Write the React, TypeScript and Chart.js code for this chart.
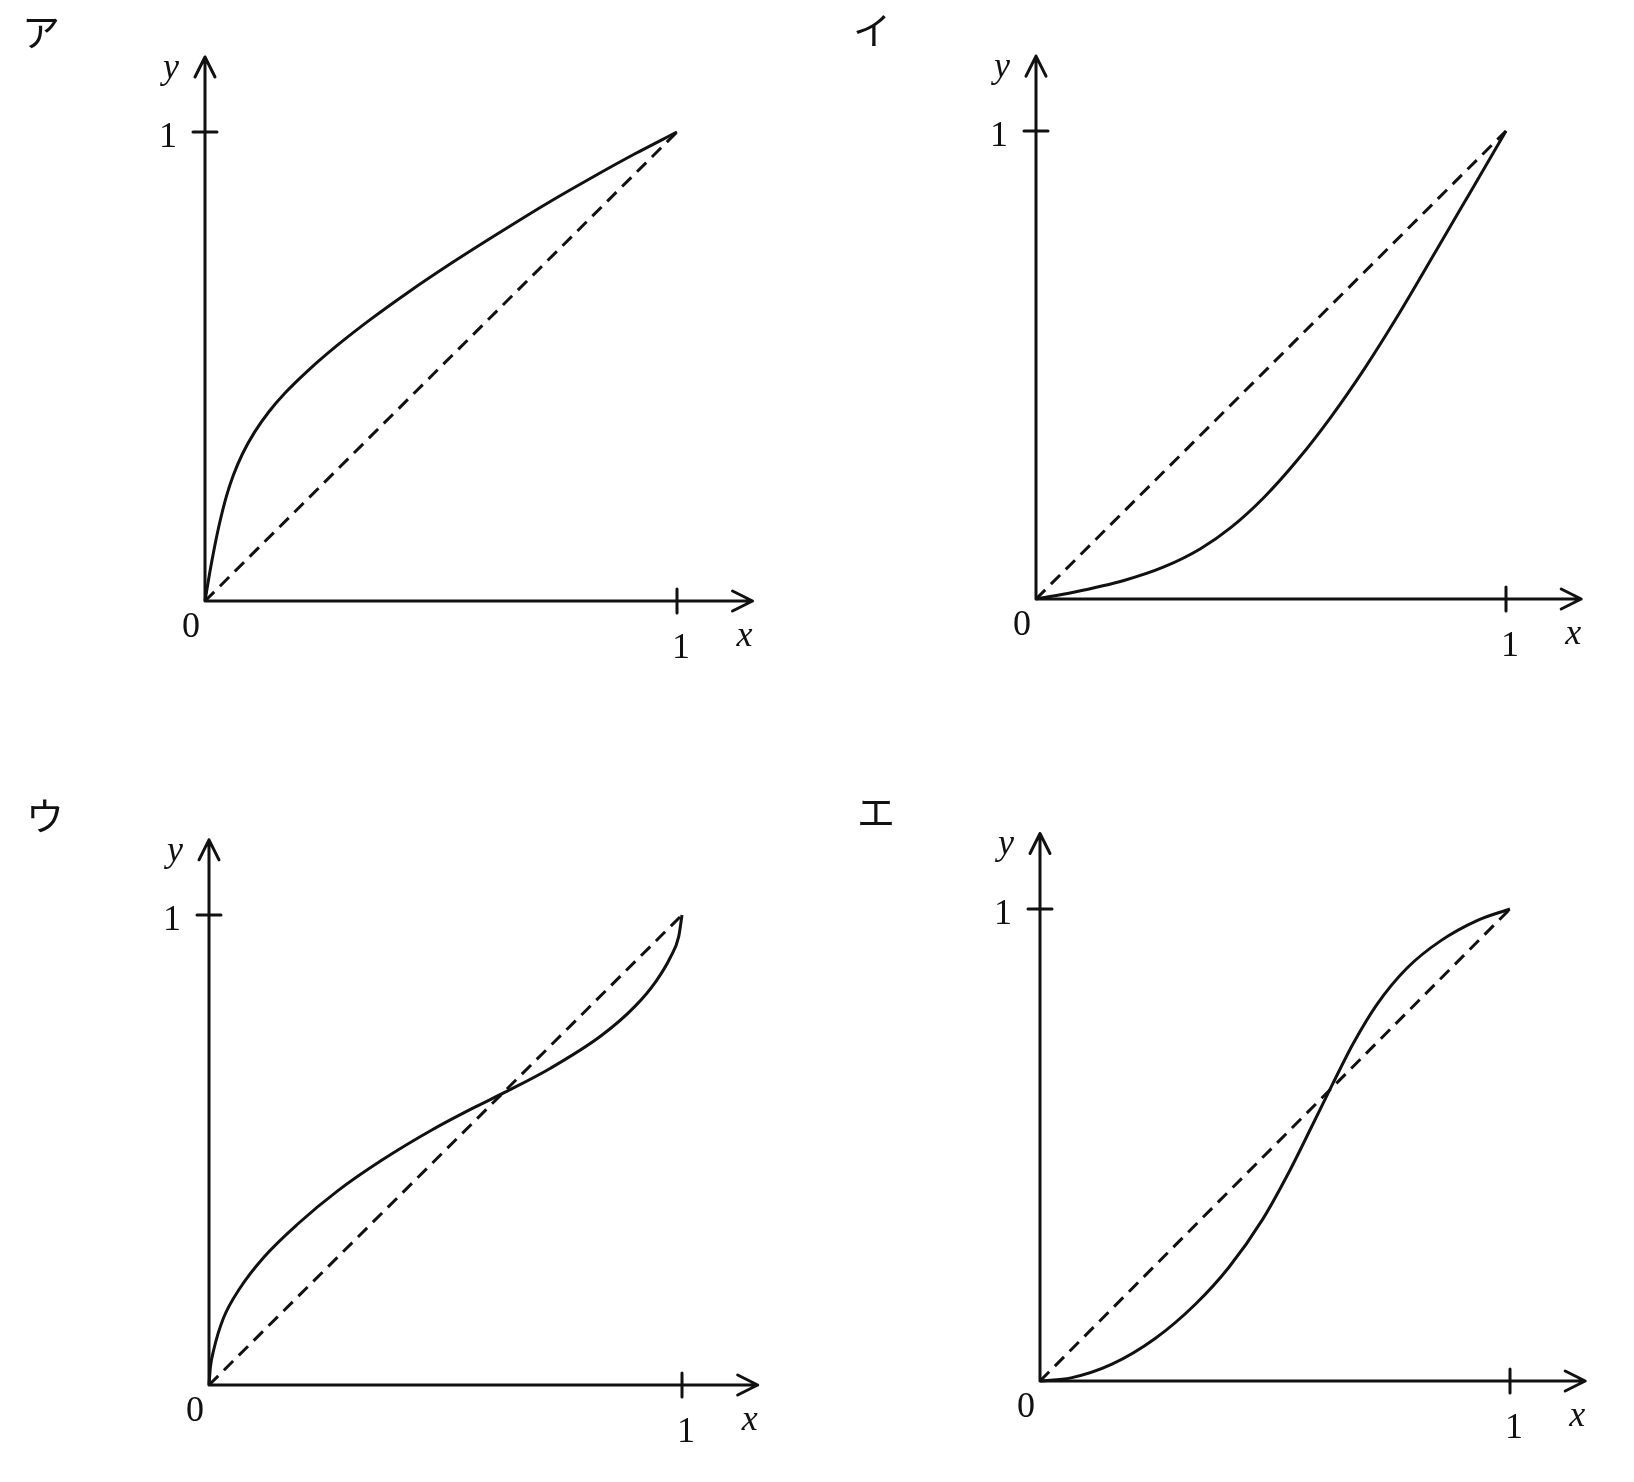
import React, { useEffect, useRef } from "react";
import { Chart, registerables } from "chart.js";

Chart.register(...registerables);

// ---------------- data ----------------
const panelLabels = ["ア", "イ", "ウ", "エ"];
const zeroLabel = "0";
const oneLabel = "1";
const xAxisName = "x";
const yAxisName = "y";

// dashed reference line y = x
const diagonalX = [0, 1];
const diagonalY = [0, 1];

// ア
const curveAX = [0, 0.01, 0.02, 0.03, 0.045, 0.06, 0.08, 0.105, 0.135, 0.17, 0.22, 0.28, 0.35, 0.43, 0.52, 0.62, 0.72, 0.82, 0.91, 1];
const curveAY = [0, 0.06, 0.114, 0.162, 0.222, 0.268, 0.315, 0.36, 0.403, 0.444, 0.493, 0.545, 0.6, 0.658, 0.719, 0.783, 0.845, 0.903, 0.953, 1];

// イ
const curveIX = [0, 0.08, 0.187, 0.272, 0.35, 0.415, 0.486, 0.558, 0.629, 0.7, 0.772, 0.85, 0.921, 1];
const curveIY = [0, 0.0145, 0.0396, 0.0685, 0.1075, 0.153, 0.218, 0.299, 0.391, 0.494, 0.609, 0.742, 0.864, 1];

// ウ
const curveUX = [0, 0.003, 0.01, 0.03, 0.066, 0.116, 0.187, 0.272, 0.365, 0.472, 0.558, 0.626, 0.722, 0.829, 0.9, 0.945, 0.975, 0.993, 1];
const curveUY = [0, 0.038, 0.075, 0.141, 0.207, 0.272, 0.342, 0.413, 0.478, 0.543, 0.589, 0.623, 0.674, 0.743, 0.805, 0.859, 0.909, 0.954, 1];

// エ
const curveEX = [0, 0.066, 0.152, 0.245, 0.33, 0.402, 0.474, 0.531, 0.581, 0.624, 0.667, 0.717, 0.781, 0.853, 0.931, 1];
const curveEY = [0, 0.0066, 0.035, 0.09, 0.162, 0.241, 0.343, 0.445, 0.545, 0.632, 0.716, 0.798, 0.875, 0.933, 0.976, 1];

const curves = [
  { x: curveAX, y: curveAY },
  { x: curveIX, y: curveIY },
  { x: curveUX, y: curveUY },
  { x: curveEX, y: curveEY },
];

// ---------------- layout (page pixels) ----------------
const PAGE_W = 1634;
const PAGE_H = 1482;
const AXIS_MAX = 1.16;
const INK = "#111111";

const layouts = [
  { left: 0, top: 0, width: 817, height: 741, ox: 205, oy: 601, ux: 472, uy: 469 },
  { left: 817, top: 0, width: 817, height: 741, ox: 1036, oy: 599, ux: 470, uy: 468 },
  { left: 0, top: 741, width: 817, height: 741, ox: 209, oy: 1385, ux: 473, uy: 470 },
  { left: 817, top: 741, width: 817, height: 741, ox: 1040, oy: 1381, ux: 470, uy: 472 },
];

const axesPlugin = {
  id: "mathAxes",
  afterDatasetsDraw(chart: any, _args: any, opts: any) {
    const { ctx } = chart;
    const xs = chart.scales.x;
    const ys = chart.scales.y;
    const x0 = xs.getPixelForValue(0);
    const x1 = xs.getPixelForValue(1);
    const xEnd = xs.getPixelForValue(AXIS_MAX);
    const y0 = ys.getPixelForValue(0);
    const y1 = ys.getPixelForValue(1);
    const yEnd = ys.getPixelForValue(AXIS_MAX);

    ctx.save();
    ctx.strokeStyle = INK;
    ctx.lineWidth = 3;
    ctx.lineCap = "round";
    ctx.lineJoin = "round";
    ctx.setLineDash([]);
    ctx.beginPath();
    // axes
    ctx.moveTo(x0, y0);
    ctx.lineTo(xEnd, y0);
    ctx.moveTo(x0, y0);
    ctx.lineTo(x0, yEnd);
    // arrow heads
    ctx.moveTo(xEnd - 20, y0 - 10);
    ctx.lineTo(xEnd, y0);
    ctx.lineTo(xEnd - 20, y0 + 10);
    ctx.moveTo(x0 - 10, yEnd + 20);
    ctx.lineTo(x0, yEnd);
    ctx.lineTo(x0 + 10, yEnd + 20);
    // tick marks at 1
    ctx.moveTo(x1, y0 - 12);
    ctx.lineTo(x1, y0 + 12);
    ctx.moveTo(x0 - 12, y1);
    ctx.lineTo(x0 + 12, y1);
    ctx.stroke();

    ctx.fillStyle = INK;
    ctx.textAlign = "center";
    ctx.textBaseline = "alphabetic";
    ctx.font = '36px "Liberation Serif", serif';
    ctx.fillText(zeroLabel, x0 - 14, y0 + 36);
    ctx.fillText(oneLabel, x1 + 4, y0 + 57);
    ctx.fillText(oneLabel, x0 - 37, y1 + 15);
    ctx.font = 'italic 36px "Liberation Serif", serif';
    ctx.fillText(xAxisName, xEnd - 8, y0 + 45);
    ctx.fillText(yAxisName, x0 - 34, yEnd + 21);

    ctx.font = '38px "Noto Sans CJK JP", sans-serif';
    ctx.textBaseline = "middle";
    ctx.fillText(opts.label, x0 - 164, y0 - 569);
    ctx.restore();
  },
};

function Panel({ index }: { index: number }) {
  const ref = useRef<HTMLCanvasElement>(null);
  const L = layouts[index];

  useEffect(() => {
    const c = curves[index];
    const padLeft = L.ox - L.left;
    const padBottom = L.top + L.height - L.oy;
    const padRight = L.width - padLeft - AXIS_MAX * L.ux;
    const padTop = L.oy - L.top - AXIS_MAX * L.uy;
    const chart = new Chart(ref.current as HTMLCanvasElement, {
      type: "line",
      data: {
        datasets: [
          {
            data: c.x.map((v, i) => ({ x: v, y: c.y[i] })),
            borderColor: INK,
            borderWidth: 3,
            pointRadius: 0,
            cubicInterpolationMode: "monotone",
            fill: false,
            clip: false,
          } as any,
          {
            data: diagonalX.map((v, i) => ({ x: v, y: diagonalY[i] })),
            borderColor: INK,
            borderWidth: 3,
            borderDash: [13, 8],
            pointRadius: 0,
            tension: 0,
            fill: false,
            clip: false,
          } as any,
        ],
      },
      options: {
        responsive: false,
        animation: false,
        events: [],
        layout: { padding: { left: padLeft, right: padRight, top: padTop, bottom: padBottom } },
        scales: {
          x: { type: "linear", min: 0, max: AXIS_MAX, display: false },
          y: { type: "linear", min: 0, max: AXIS_MAX, display: false },
        },
        plugins: {
          legend: { display: false },
          tooltip: { enabled: false },
          mathAxes: { label: panelLabels[index] },
        } as any,
      },
      plugins: [axesPlugin as any],
    });
    return () => chart.destroy();
  }, [index]);

  return (
    <canvas
      ref={ref}
      width={L.width}
      height={L.height}
      style={{ position: "absolute", left: L.left, top: L.top, width: L.width, height: L.height }}
    />
  );
}

export default function App() {
  return (
    <div
      style={{
        position: "absolute",
        left: 0,
        top: 0,
        width: PAGE_W,
        height: PAGE_H,
        background: "#ffffff",
        overflow: "hidden",
      }}
    >
      {panelLabels.map((_, i) => (
        <Panel key={i} index={i} />
      ))}
    </div>
  );
}
